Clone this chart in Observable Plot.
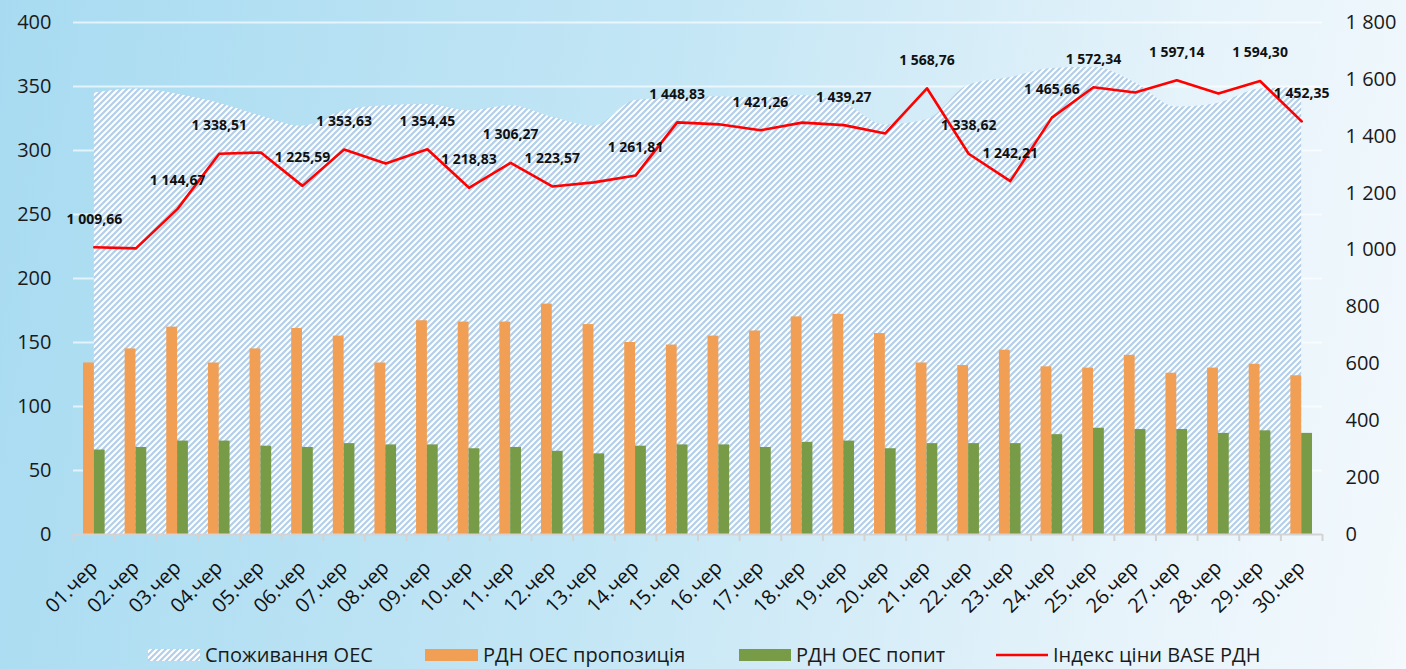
<!DOCTYPE html>
<html><head><meta charset="utf-8">
<script src="https://cdn.jsdelivr.net/npm/d3@7"></script>
<script src="https://cdn.jsdelivr.net/npm/@observablehq/plot@0.6"></script>
<style>
html,body{margin:0;padding:0;width:1406px;height:669px;overflow:hidden;}
body{background:linear-gradient(100deg,#a8dbf1 0%,#c3e6f5 45%,#e6f3fa 80%,#f3f9fd 100%);font-family:"Open Sans",sans-serif;}
#chart{height:640px;}
#legend{height:29px;position:relative;font-size:20px;color:#1a1a1a;}
.item{position:absolute;top:0;height:29px;display:flex;align-items:center;white-space:nowrap;}
.item svg{margin-right:5px;}
</style></head><body>
<div id="chart"></div>
<div id="legend"></div>
<script>
const days = ["01.чер","02.чер","03.чер","04.чер","05.чер","06.чер","07.чер","08.чер","09.чер","10.чер",
  "11.чер","12.чер","13.чер","14.чер","15.чер","16.чер","17.чер","18.чер","19.чер","20.чер",
  "21.чер","22.чер","23.чер","24.чер","25.чер","26.чер","27.чер","28.чер","29.чер","30.чер"];
const consumption = [345,348,344,337,327,319,331,335,336,331,335,326,319,339,341,342,341,343,337,320,
  324,351,357,364,365,353,334,337,348,349];
const supply = [134,145,162,134,145,161,155,134,167,166,166,180,164,150,148,155,159,170,172,157,
  134,132,144,131,130,140,126,130,133,124];
const demand = [66,68,73,73,69,68,71,70,70,67,68,65,63,69,70,70,68,72,73,67,
  71,71,71,78,83,82,82,79,81,79];
const price = [1009.66,1006,1144.67,1338.51,1343,1225.59,1353.63,1304,1354.45,1218.83,
  1306.27,1223.57,1238,1261.81,1448.83,1442,1421.26,1448,1439.27,1410,
  1568.76,1338.62,1242.21,1465.66,1572.34,1554,1597.14,1550,1594.30,1452.35];
const showLabel = [1,0,1,1,0,1,1,0,1,1,1,1,0,1,1,0,1,0,1,0,1,1,1,1,1,0,1,0,1,1];
const leftTicks = [0,50,100,150,200,250,300,350,400];
const rightTicks = [0,200,400,600,800,1000,1200,1400,1600,1800];
const seriesNames = ["Споживання ОЕС","РДН ОЕС пропозиція","РДН ОЕС попит","Індекс ціни BASE РДН"];

const K = 400/1800;
const grp = v => { const s = String(v); return s.replace(/\B(?=(\d{3})+(?!\d))/g, " "); };
const fmt2 = v => { const [a,b] = v.toFixed(2).split("."); return grp(a) + "," + b; };

const data = days.map((d,i) => ({i:i+1, day:d, cons:consumption[i], sup:supply[i], dem:demand[i],
  price:price[i], p:price[i]*K, show:!!showLabel[i]}));
const bounds = d3.range(0, 31).map(k => k + 0.5);

const font = "Open Sans";
const plot = Plot.plot({
  width:1406, height:640, marginLeft:73, marginRight:84, marginTop:22, marginBottom:106,
  style:{background:"transparent", fontFamily:font, color:"#1a1a1a", overflow:"visible"},
  x:{domain:[0.5,30.5], axis:null},
  y:{domain:[0,400], axis:null},
  marks:[
    Plot.ruleY(leftTicks.filter(v=>v>0), {stroke:"#ffffff", strokeOpacity:0.65, strokeWidth:2}),
    Plot.areaY(data, {x:"i", y:"cons", fill:"url(#hatch)", curve:"monotone-x"}),
    Plot.rectY(data, {x1:d=>d.i-0.26, x2:d=>d.i, y:"sup", fill:"#f09f55"}),
    Plot.rectY(data, {x1:d=>d.i, x2:d=>d.i+0.26, y:"dem", fill:"#789b48"}),
    Plot.ruleY([0], {stroke:"#d3d3d3", strokeWidth:2}),
    Plot.ruleX(bounds, {y1:0, y2:-5.5, stroke:"#d3d3d3", strokeWidth:2}),
    Plot.line(data, {x:"i", y:"p", stroke:"#ff0000", strokeWidth:2.6}),
    Plot.text(data.filter(d=>d.show), {x:"i", y:"p", text:d=>fmt2(d.price), dy:-28, fontSize:14, fontWeight:"bold", fill:"#111"}),
    Plot.axisY(leftTicks, {anchor:"left", tickSize:0, tickPadding:22, fontSize:20, fill:"#1a1a1a"}),
    Plot.axisY(rightTicks.map(v=>v*K), {anchor:"right", tickSize:0, tickPadding:23, fontSize:20, fill:"#1a1a1a",
      tickFormat:v=>grp(Math.round(v/K))}),
    Plot.text(data, {x:"i", y:0, text:"day", rotate:-45, textAnchor:"end", dx:0, dy:30, fontSize:20, fill:"#111"})
  ]
});
const ns = "http://www.w3.org/2000/svg";
function addHatch(svg, id){
  const defs = document.createElementNS(ns,"defs");
  defs.innerHTML = `<pattern id="${id}" patternUnits="userSpaceOnUse" width="6" height="6">
    <rect width="6" height="6" fill="#ffffff"/>
    <path d="M-1.5,1.5 L1.5,-1.5 M0,6 L6,0 M4.5,7.5 L7.5,4.5" stroke="#b3cfea" stroke-width="2.2"/>
  </pattern>`;
  svg.insertBefore(defs, svg.firstChild);
}
addHatch(plot, "hatch");
document.getElementById("chart").appendChild(plot);

const legend = document.getElementById("legend");
const items = [
  {x:148, sw:`<svg width="52" height="12"><defs><pattern id="hatch2" patternUnits="userSpaceOnUse" width="6" height="6"><rect width="6" height="6" fill="#fff"/><path d="M-1.5,1.5 L1.5,-1.5 M0,6 L6,0 M4.5,7.5 L7.5,4.5" stroke="#b3cfea" stroke-width="2.2"/></pattern></defs><rect width="52" height="12" fill="url(#hatch2)"/></svg>`},
  {x:425, sw:`<svg width="53" height="12"><rect width="53" height="12" fill="#f09f55"/></svg>`},
  {x:739, sw:`<svg width="52" height="12"><rect width="52" height="12" fill="#789b48"/></svg>`},
  {x:996, sw:`<svg width="52" height="12"><line x1="0" x2="52" y1="6" y2="6" stroke="#ff0000" stroke-width="2.6"/></svg>`}
];
items.forEach((it,k) => {
  const div = document.createElement("div");
  div.className = "item";
  div.style.left = it.x + "px";
  div.innerHTML = it.sw + `<span>${seriesNames[k]}</span>`;
  legend.appendChild(div);
});
</script>
</body></html>
